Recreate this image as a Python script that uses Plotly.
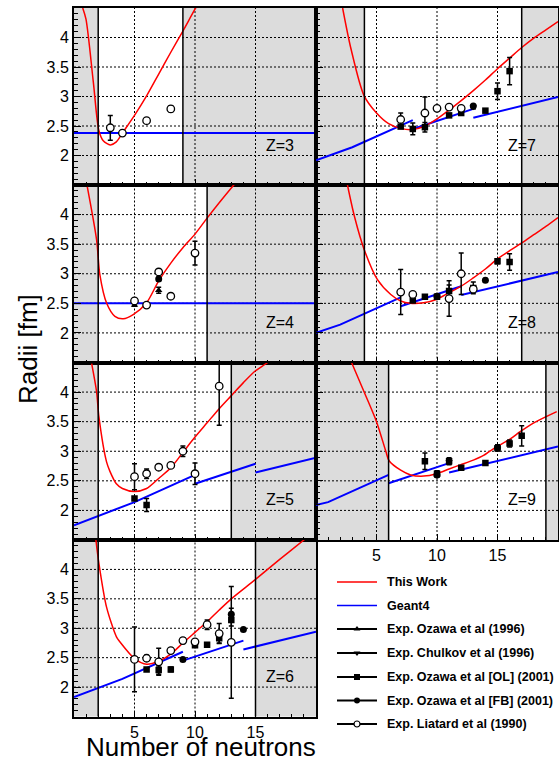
import plotly.graph_objects as go

W, H = 559, 762

# ---------------- data ----------------
Z_LIST = [3, 4, 5, 6, 7, 8, 9]

# neutron-number window shown without shading, per Z
VALID_LO = {3: 2, 4: 2, 5: 2, 6: 2, 7: 4, 8: 4, 9: 6}
VALID_HI = {3: 9, 4: 11, 5: 13, 6: 15, 7: 17, 8: 17, 9: 19}

# "This Work" (red)
RED_N = {
    3: [0.72, 0.99, 1.6, 2.06, 2.42, 3.0, 3.5, 4.0, 5, 6, 7, 8, 9, 10, 10.5],
    4: [1.1, 1.87, 2.14, 2.7, 3.38, 4.07, 4.89, 6, 7, 8, 9, 10, 11, 12, 13, 13.5],
    5: [1.46, 1.87, 2.06, 2.69, 2.97, 3.5, 4.0, 5, 6, 7, 8, 9, 10, 11, 12, 13, 14, 15, 16, 16.5],
    6: [1.81, 2.06, 2.69, 3.52, 3.79, 5.03, 6, 7, 8, 9, 10, 11, 12, 13, 15, 17, 19.0, 19.5],
    7: [2.2, 2.9, 3.98, 5.0, 6.0, 7.0, 8.0, 9.0, 10, 11, 12, 13, 14, 15, 16, 17, 18, 19, 20],
    8: [2.6, 3.2, 3.98, 5.08, 6.18, 7.0, 7.8, 8.9, 10, 11, 12, 13, 14, 15, 16, 17, 18, 19, 20],
    9: [2.94, 3.98, 5.0, 5.77, 6.04, 7.0, 7.82, 8.9, 9.96, 11, 11.93, 13, 13.85, 14.87, 16, 16.87, 18, 19.9],
}
RED_R = {
    3: [4.50, 4.31, 3.24, 2.42, 2.25, 2.18, 2.23, 2.38, 2.68, 3.01, 3.38, 3.75, 4.11, 4.48, 4.65],
    4: [4.47, 3.57, 2.98, 2.50, 2.28, 2.24, 2.31, 2.51, 2.88, 3.18, 3.44, 3.67, 3.94, 4.20, 4.45, 4.57],
    5: [4.48, 4.00, 3.58, 2.82, 2.66, 2.45, 2.37, 2.32, 2.37, 2.54, 2.72, 2.98, 3.24, 3.48, 3.72, 3.94, 4.16, 4.36, 4.50, 4.60],
    6: [4.50, 4.10, 3.36, 2.85, 2.77, 2.48, 2.39, 2.44, 2.56, 2.75, 2.93, 3.11, 3.31, 3.50, 3.83, 4.17, 4.50, 4.58],
    7: [4.50, 3.80, 3.01, 2.72, 2.54, 2.46, 2.44, 2.50, 2.62, 2.77, 2.93, 3.10, 3.28, 3.47, 3.65, 3.83, 3.99, 4.13, 4.27],
    8: [4.50, 3.95, 3.41, 2.90, 2.65, 2.54, 2.50, 2.51, 2.57, 2.68, 2.79, 2.93, 3.08, 3.25, 3.39, 3.52, 3.66, 3.80, 3.95],
    9: [4.50, 4.00, 3.50, 3.00, 2.84, 2.68, 2.60, 2.58, 2.62, 2.70, 2.77, 2.85, 2.93, 3.07, 3.20, 3.33, 3.48, 3.67],
}

# Geant4 (blue), segments separated by None
G4_N = {
    3: [0, 20],
    4: [0, 20],
    5: [0, 5, 10, None, 10, 15, None, 15, 20],
    6: [0, 4, 9, None, 9, 14, None, 14, 20],
    7: [0, 3, 8, None, 8, 13, None, 13, 20],
    8: [0, 2, 7, None, 7, 12, None, 12, 20],
    9: [0, 1, 6, None, 6, 11, None, 11, 20],
}
G4_R = {
    3: [2.38, 2.38],
    4: [2.50, 2.50],
    5: [1.75, 2.14, 2.60, None, 2.45, 2.79, None, 2.64, 2.89],
    6: [1.83, 2.14, 2.60, None, 2.45, 2.79, None, 2.64, 2.94],
    7: [1.92, 2.14, 2.60, None, 2.45, 2.79, None, 2.64, 2.99],
    8: [2.00, 2.14, 2.60, None, 2.45, 2.79, None, 2.64, 3.03],
    9: [2.09, 2.14, 2.60, None, 2.46, 2.80, None, 2.64, 3.08],
}

# Exp. Ozawa et al (1996)  - triangle up
OZ96_N = {4: [5, 7]}
OZ96_R = {4: [2.47, 2.72]}
OZ96_E = {4: [0.02, 0.05]}

# Exp. Chulkov et al (1996) - triangle down
CHU_N = {7: [13], 9: [11]}
CHU_R = {7: [2.82], 9: [2.82]}
CHU_E = {7: [0.03], 9: [0.04]}

# Exp. Ozawa et al [OL] (2001) - filled square
OL_N = {
    5: [5, 6],
    6: [6, 7, 8, 10, 11, 12, 13],
    7: [7, 8, 9, 11, 12, 14, 15, 16],
    8: [8, 9, 10, 11, 13, 15, 16],
    9: [9, 10, 11, 12, 14, 15, 16, 17],
}
OL_R = {
    5: [2.20, 2.09],
    6: [2.30, 2.29, 2.30, 2.71, 2.72, 2.83, 3.14],
    7: [2.49, 2.45, 2.48, 2.68, 2.72, 2.76, 3.09, 3.43],
    8: [2.55, 2.61, 2.61, 2.71, 2.76, 3.21, 3.20],
    9: [2.83, 2.62, 2.83, 2.72, 2.80, 3.05, 3.13, 3.26],
}
OL_E = {
    5: [0.03, 0.11],
    6: [0.03, 0.07, 0.04, 0.03, 0.03, 0.08, 0.10],
    7: [0.03, 0.10, 0.08, 0.03, 0.03, 0.02, 0.14, 0.23],
    8: [0.02, 0.03, 0.04, 0.10, 0.10, 0.04, 0.14],
    9: [0.14, 0.05, 0.06, 0.02, 0.02, 0.04, 0.06, 0.17],
}

# Exp. Ozawa et al [FB] (2001) - filled circle
FB_N = {4: [7], 6: [9, 13, 14], 7: [13], 8: [10, 14], 9: [10, 15]}
FB_R = {4: [2.91], 6: [2.47, 3.24, 2.98], 7: [2.84], 8: [2.62, 2.89], 9: [2.60, 3.06]}
FB_E = {4: [0.03], 6: [0.03, 0.10, 0.03], 7: [0.02], 8: [0.03, 0.03], 9: [0.03, 0.05]}

# Exp. Liatard et al (1990) - open circle
LIA_N = {
    3: [3, 4, 6, 8],
    4: [5, 6, 7, 8, 10],
    5: [5, 6, 7, 8, 9, 10, 12],
    6: [5, 6, 7, 8, 9, 10, 11, 12, 13],
    7: [7, 9, 10, 11, 12],
    8: [7, 8, 11, 12, 13],
}
LIA_R = {
    3: [2.47, 2.38, 2.59, 2.79],
    4: [2.54, 2.47, 3.03, 2.62, 3.35],
    5: [2.57, 2.62, 2.73, 2.76, 3.00, 2.62, 4.10],
    6: [2.47, 2.49, 2.43, 2.62, 2.79, 2.77, 3.06, 2.91, 2.76],
    7: [2.61, 2.72, 2.80, 2.82, 2.80],
    8: [2.69, 2.65, 2.58, 3.00, 2.74],
}
LIA_E = {
    3: [0.21, 0.02, 0.02, 0.05],
    4: [0.03, 0.02, 0.03, 0.04, 0.20],
    5: [0.22, 0.08, 0.02, 0.02, 0.09, 0.18, 0.66],
    6: [0.55, 0.05, 0.23, 0.03, 0.05, 0.03, 0.08, 0.17, 0.95],
    7: [0.11, 0.27, 0.02, 0.02, 0.02],
    8: [0.38, 0.03, 0.30, 0.35, 0.05],
}

Y_TICKS = [2, 2.5, 3, 3.5, 4]
Y_TICKTEXT = ["2", "2.5", "3", "3.5", "4"]
X_TICKS = [5, 10, 15]
X_TICKTEXT = ["5", "10", "15"]

LEGEND_NAMES = ["This Work", "Geant4", "Exp. Ozawa et al (1996)", "Exp. Chulkov et al (1996)",
                "Exp. Ozawa et al [OL] (2001)", "Exp. Ozawa et al [FB] (2001)", "Exp. Liatard et al (1990)"]

# ---------------- layout geometry ----------------
PANEL_POS = {3: (0, 0), 4: (1, 0), 5: (2, 0), 6: (3, 0), 7: (0, 1), 8: (1, 1), 9: (2, 1)}
COL_X = [(74, 316), (316, 558)]
ROW_Y = [(8, 185), (185, 362.5), (362.5, 540), (540, 716.5)]
FONT = "Liberation Sans, Arial, Helvetica, sans-serif"

fig = go.Figure()
axes = {}
shapes = []
annotations = []

def err_style(arr):
    return dict(type="data", array=arr, color="black", thickness=1.5, width=2.5, visible=True)

GRID_LINE = dict(color="black", width=1, dash="2px,2px")

for idx, z in enumerate(Z_LIST, start=1):
    row, col = PANEL_POS[z]
    s = "" if idx == 1 else str(idx)
    xa, ya = "x" + s, "y" + s
    x0, x1 = COL_X[col]
    y0, y1 = ROW_Y[row]
    bottom = z in (6, 9)
    axes["xaxis" + s] = dict(
        domain=[x0 / W, x1 / W], anchor=ya, range=[0, 20],
        showline=True, linecolor="black", linewidth=2, mirror=True,
        ticks="inside", ticklen=6, tickwidth=1, tickcolor="black",
        tickmode="array", tickvals=X_TICKS, ticktext=X_TICKTEXT,
        showticklabels=bottom, tickfont=dict(family=FONT, size=16, color="black"),
        showgrid=False, zeroline=False,
        minor=dict(ticks="inside", ticklen=3, tickmode="linear", tick0=0, dtick=1,
                   tickcolor="black", showgrid=False),
    )
    axes["yaxis" + s] = dict(
        domain=[1 - y1 / H, 1 - y0 / H], anchor=xa, range=[1.5, 4.5],
        showline=True, linecolor="black", linewidth=2, mirror=True,
        ticks="inside", ticklen=7, tickwidth=1, tickcolor="black",
        tickmode="array", tickvals=Y_TICKS, ticktext=Y_TICKTEXT,
        showticklabels=(col == 0), tickfont=dict(family=FONT, size=16, color="black"),
        showgrid=False, zeroline=False,
        minor=dict(ticks="inside", ticklen=3.5, tickmode="linear", tick0=0, dtick=0.1,
                   tickcolor="black", showgrid=False),
    )
    lo, hi = VALID_LO[z], VALID_HI[z]
    for a, b in ((0, lo), (hi, 20)):
        shapes.append(dict(type="rect", xref=xa, yref=ya + " domain", x0=a, x1=b, y0=0, y1=1,
                           fillcolor="#dcdcdc", line=dict(width=0), layer="below"))
    # dotted grid at the major ticks
    for v in X_TICKS:
        shapes.append(dict(type="line", xref=xa, yref=ya + " domain", x0=v, x1=v, y0=0, y1=1,
                           line=GRID_LINE, layer="below"))
    for v in Y_TICKS:
        shapes.append(dict(type="line", xref=xa + " domain", yref=ya, x0=0, x1=1, y0=v, y1=v,
                           line=GRID_LINE, layer="below"))
    for v in (lo, hi):
        shapes.append(dict(type="line", xref=xa, yref=ya + " domain", x0=v, x1=v, y0=0, y1=1,
                           line=dict(color="black", width=1.5), layer="above"))
    annotations.append(dict(text="Z=%d" % z, xref=xa + " domain", yref=ya + " domain",
                            x=1 - 20 / 242, y=40 / 177, xanchor="right", yanchor="middle",
                            showarrow=False, font=dict(family=FONT, size=16, color="black")))

    # Geant4
    fig.add_trace(go.Scatter(x=G4_N[z], y=G4_R[z], mode="lines", xaxis=xa, yaxis=ya,
                             line=dict(color="#0000ff", width=2), connectgaps=False,
                             showlegend=False, hoverinfo="skip"))
    # This work
    fig.add_trace(go.Scatter(x=RED_N[z], y=RED_R[z], mode="lines", xaxis=xa, yaxis=ya,
                             line=dict(color="#ff0000", width=1.5, shape="spline", smoothing=0.8),
                             showlegend=False, hoverinfo="skip"))
    # experiments
    series = [
        (FB_N, FB_R, FB_E, dict(symbol="circle", size=7, color="black")),
        (OL_N, OL_R, OL_E, dict(symbol="square", size=6.5, color="black")),
        (OZ96_N, OZ96_R, OZ96_E, dict(symbol="triangle-up", size=6.5, color="black")),
        (CHU_N, CHU_R, CHU_E, dict(symbol="triangle-down", size=6.5, color="black")),
        (LIA_N, LIA_R, LIA_E, dict(symbol="circle", size=7.5, color="white",
                                   line=dict(color="black", width=1.3))),
    ]
    for dn, dr, de, mk in series:
        if z in dn:
            fig.add_trace(go.Scatter(x=dn[z], y=dr[z], mode="markers", xaxis=xa, yaxis=ya,
                                     marker=mk, error_y=err_style(de[z]),
                                     showlegend=False, hoverinfo="skip"))

# ---------------- legend (hidden pixel axis) ----------------
LX0, LX1, LY0, LY1 = 320, 559, 565, 740
axes["xaxis8"] = dict(domain=[LX0 / W, LX1 / W], range=[LX0, LX1], visible=False, anchor="y8")
axes["yaxis8"] = dict(domain=[1 - LY1 / H, 1 - LY0 / H], range=[LY1, LY0], visible=False, anchor="x8")
LEG_Y = [582, 605.5, 629, 653, 677, 700.5, 724]
leg_line = [("#ff0000", 1.5, None), ("#0000ff", 1.5, None),
            ("black", 2, dict(symbol="triangle-up", size=6, color="black")),
            ("black", 2, dict(symbol="triangle-down", size=6, color="black")),
            ("black", 2, dict(symbol="square", size=6, color="black")),
            ("black", 2, dict(symbol="circle", size=6, color="black")),
            ("black", 2, dict(symbol="circle", size=6, color="white", line=dict(color="black", width=1.2)))]
for k, (name, (c, w, mk)) in enumerate(zip(LEGEND_NAMES, leg_line)):
    fig.add_trace(go.Scatter(x=[337, 377], y=[LEG_Y[k], LEG_Y[k]], mode="lines", xaxis="x8", yaxis="y8",
                             line=dict(color=c, width=w), showlegend=False, hoverinfo="skip"))
    if mk is not None:
        fig.add_trace(go.Scatter(x=[357], y=[LEG_Y[k]], mode="markers", xaxis="x8", yaxis="y8",
                                 marker=mk, showlegend=False, hoverinfo="skip"))
    annotations.append(dict(text="<b>%s</b>" % name, xref="x8", yref="y8", x=385, y=LEG_Y[k],
                            xanchor="left", yanchor="middle", showarrow=False,
                            font=dict(family=FONT, size=12.5, color="black")))

# axis titles
annotations.append(dict(text="Radii [fm]", xref="paper", yref="paper", x=28 / W, y=1 - 349 / H,
                        textangle=-90, xanchor="center", yanchor="middle", showarrow=False,
                        font=dict(family=FONT, size=26, color="black")))
annotations.append(dict(text="Number of neutrons", xref="paper", yref="paper", x=318 / W, y=1 - 747 / H,
                        xanchor="right", yanchor="middle", showarrow=False,
                        font=dict(family=FONT, size=26, color="black")))

fig.update_layout(width=W, height=H, margin=dict(l=0, r=0, t=0, b=0),
                  paper_bgcolor="white", plot_bgcolor="white",
                  shapes=shapes, annotations=annotations, showlegend=False, **axes)
fig.write_html("out.html", config={"displayModeBar": False},
               post_script="document.body.style.margin='0';document.body.style.padding='0';"
                           "document.body.style.overflow='hidden';")
